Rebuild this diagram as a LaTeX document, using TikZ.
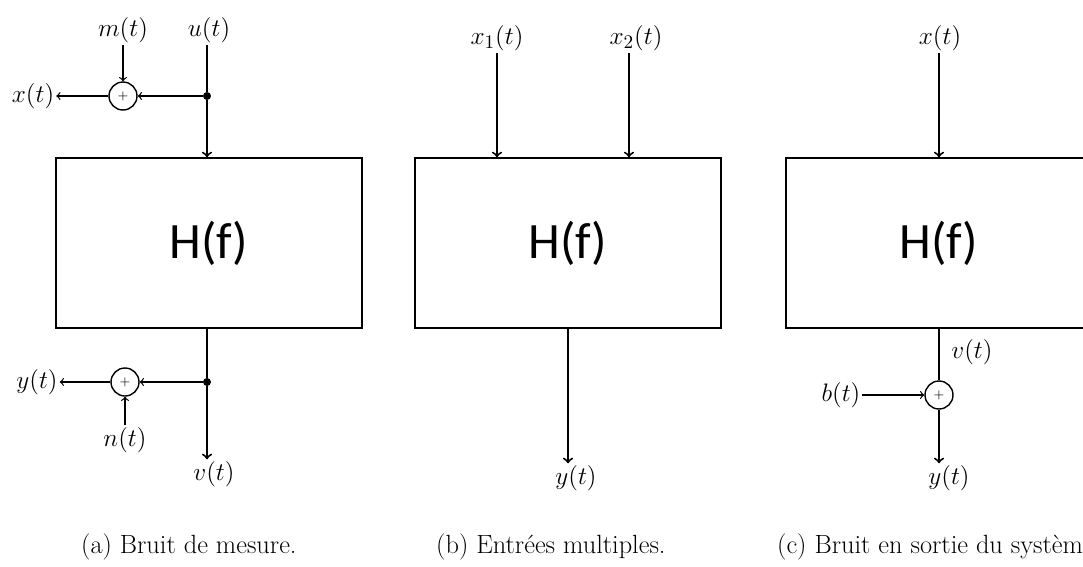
\documentclass[tikz,border=0pt]{standalone}
\usepackage{fontspec}
\newfontfamily\hfont{Carlito}
\usetikzlibrary{positioning}

\tikzstyle{block} = [rectangle, draw, line width=0.85pt, minimum width=6.12cm, minimum height=3.4cm, text centered, font=\hfont\fontsize{29}{32}\selectfont]
\tikzstyle{sum} = [circle, draw, line width=0.8pt, minimum size=0.56cm, inner sep=0pt, font=\fontsize{7}{8}\selectfont]
\tikzstyle{sig} = [inner sep=1pt, font=\fontsize{15}{17}\selectfont]
\tikzstyle{dot} = [circle, fill, inner sep=0pt, minimum size=0.16cm]
\tikzstyle{main} = [line width=1.1pt]
\tikzstyle{thin} = [line width=0.7pt]
\tikzstyle{caption} = [font=\fontsize{15}{18}\selectfont]

\begin{document}
\begin{tikzpicture}[x=0.02cm, y=-0.02cm]
		\useasboundingbox (0,0) rectangle (1083,566);
		% Boites
		\node[block] (Ha) at (209,243) {H(f)};
		\node[block] (Hb) at (568,243) {H(f)};
		\node[block] (Hc) at (939,243) {H(f)};
		% (a) bruit de mesure
		\node[sig] (ua) at (209,30) {$u(t)$};
		\node[sig] (ma) at (123,30) {$m(t)$};
		\node[sig] (xa) at (33,96) {$x(t)$};
		\node[sum] (sa) at (123,96) {+};
		\node[dot] (ja) at (207,96) {};
		\draw[main] (ja |- ua.south) -- (ja);
		\draw[main,->] (ja) -- (ja |- Ha.north);
		\draw[thin,->] (ja) -- (sa);
		\draw[thin,->] (sa) -- (xa);
		\draw[thin,->] (ma) -- (sa);
		\node[dot] (jb) at (207,382) {};
		\node[sum] (sb) at (125,382) {+};
		\node[sig] (ya) at (37,382) {$y(t)$};
		\node[sig] (na) at (125,440) {$n(t)$};
		\node[sig] (va) at (214,474) {$v(t)$};
		\draw[main] (jb |- Ha.south) -- (jb);
		\draw[main,->] (jb) -- (jb |- va.north);
		\draw[thin,->] (jb) -- (sb);
		\draw[thin,->] (sb) -- (ya);
		\draw[thin,->] (na) -- (sb);
		% (b) entrees multiples
		\node[sig] (x1b) at (497,38) {$x_1(t)$};
		\node[sig] (x2b) at (636,38) {$x_2(t)$};
		\node[sig] (yb) at (576,478) {$y(t)$};
		\draw[main,->] (x1b) -- (x1b |- Hb.north);
		\draw[main,->] ([xshift=-4]x2b.south) -- ([xshift=-4]x2b.south |- Hb.north);
		\draw[main,->] (Hb.south) -- (Hb.south |- yb.north);
		% (c) bruit en sortie
		\node[sig] (xc) at (940,38) {$x(t)$};
		\node[sum] (sc) at (939,395) {+};
		\node[sig] (vc) at (972,352) {$v(t)$};
		\node[sig] (bc) at (841,395) {$b(t)$};
		\node[sig] (yc) at (949,478) {$y(t)$};
		\draw[main,->] (sc |- xc.south) -- (sc |- Hc.north);
		\draw[main] (Hc.south) -- (sc);
		\draw[thin,->] (bc) -- (sc);
		\draw[main,->] (sc) -- (sc |- yc.north);
		% Legendes
		\node[caption, anchor=west] (capa) at (75,547) {(a) Bruit de mesure.};
		\node[caption, anchor=west] (capb) at (430,547) {(b) Entrées multiples.};
		\node[caption, anchor=west] (capc) at (771,547) {(c) Bruit en sortie du système.};
\end{tikzpicture}
\end{document}
